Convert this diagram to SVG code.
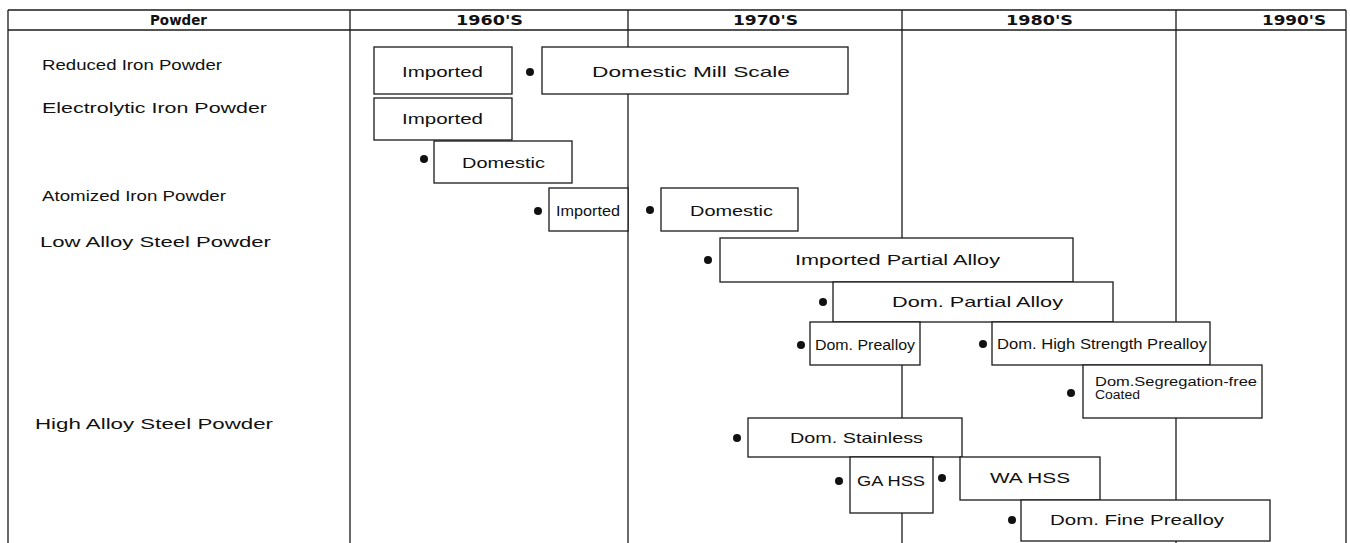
<svg xmlns="http://www.w3.org/2000/svg" width="1350" height="543" viewBox="0 0 1350 543">
<style>
.ln{stroke:#1a1a1a;stroke-width:1.3;fill:none}
.bx{fill:#fff;stroke:#1a1a1a;stroke-width:1.3}
.hd{font-family:"DejaVu Sans","Liberation Sans",sans-serif;font-weight:bold;font-size:14px;fill:#111}
.lb{font-family:"Liberation Sans",Arial,sans-serif;font-size:15px;fill:#111}
.tx{font-family:"Liberation Sans",Arial,sans-serif;font-size:15px;fill:#111;text-anchor:start}
.nr{font-family:"Liberation Sans",Arial,sans-serif;font-size:14px;fill:#111}
.sm{font-family:"Liberation Sans",Arial,sans-serif;font-size:12.5px;fill:#111}
.dt{fill:#111}
</style>
<rect width="1350" height="543" fill="#fff"/>
<g id="grid">
<line class="ln" x1="8" y1="10" x2="1346" y2="10"/>
<line class="ln" x1="8" y1="30" x2="1346" y2="30"/>
<line class="ln" x1="8" y1="10" x2="8" y2="543"/>
<line class="ln" x1="1346" y1="10" x2="1346" y2="543"/>
<line class="ln" x1="350" y1="10" x2="350" y2="543"/>
<line class="ln" x1="628" y1="10" x2="628" y2="543"/>
<line class="ln" x1="902" y1="10" x2="902" y2="543"/>
<line class="ln" x1="1176" y1="10" x2="1176" y2="543"/>
</g>
<g id="header">
<text class="hd" x="150" y="25" textLength="57" lengthAdjust="spacingAndGlyphs">Powder</text>
<text class="hd" x="456" y="25" textLength="67" lengthAdjust="spacingAndGlyphs">1960'S</text>
<text class="hd" x="733" y="25" textLength="65" lengthAdjust="spacingAndGlyphs">1970'S</text>
<text class="hd" x="1006" y="25" textLength="67" lengthAdjust="spacingAndGlyphs">1980'S</text>
<text class="hd" x="1262" y="25" textLength="64" lengthAdjust="spacingAndGlyphs">1990'S</text>
</g>
<g id="labels">
<text class="lb" x="42" y="70" textLength="180" lengthAdjust="spacingAndGlyphs">Reduced Iron Powder</text>
<text class="lb" x="42" y="113" textLength="225" lengthAdjust="spacingAndGlyphs">Electrolytic Iron Powder</text>
<text class="lb" x="42" y="201" textLength="184" lengthAdjust="spacingAndGlyphs">Atomized Iron Powder</text>
<text class="lb" x="40" y="247" textLength="231" lengthAdjust="spacingAndGlyphs">Low Alloy Steel Powder</text>
<text class="lb" x="35" y="429" textLength="238" lengthAdjust="spacingAndGlyphs">High Alloy Steel Powder</text>
</g>
<g id="n1"><rect class="bx" x="374" y="47" width="138" height="47"/><text class="tx" x="402" y="77" textLength="81" lengthAdjust="spacingAndGlyphs">Imported</text></g>
<g id="n2"><circle class="dt" cx="530" cy="72" r="4"/><rect class="bx" x="542" y="47" width="306" height="47"/><text class="tx" x="592" y="77" textLength="198" lengthAdjust="spacingAndGlyphs">Domestic Mill Scale</text></g>
<g id="n3"><rect class="bx" x="374" y="98" width="138" height="42"/><text class="tx" x="402" y="124" textLength="81" lengthAdjust="spacingAndGlyphs">Imported</text></g>
<g id="n4"><circle class="dt" cx="424" cy="159" r="4"/><rect class="bx" x="434" y="141" width="138" height="42"/><text class="tx" x="462" y="168" textLength="83" lengthAdjust="spacingAndGlyphs">Domestic</text></g>
<g id="n5"><circle class="dt" cx="538" cy="211" r="4"/><rect class="bx" x="549" y="188" width="79" height="43"/><text class="nr" x="556" y="216" textLength="64" lengthAdjust="spacingAndGlyphs">Imported</text></g>
<g id="n6"><circle class="dt" cx="650" cy="210" r="4"/><rect class="bx" x="661" y="188" width="137" height="43"/><text class="tx" x="690" y="216" textLength="83" lengthAdjust="spacingAndGlyphs">Domestic</text></g>
<g id="n7"><circle class="dt" cx="708" cy="260" r="4"/><rect class="bx" x="720" y="238" width="353" height="44"/><text class="tx" x="795" y="265" textLength="205" lengthAdjust="spacingAndGlyphs">Imported Partial Alloy</text></g>
<g id="n8"><circle class="dt" cx="823" cy="302" r="4"/><rect class="bx" x="833" y="282" width="280" height="40"/><text class="tx" x="892" y="307" textLength="171" lengthAdjust="spacingAndGlyphs">Dom. Partial Alloy</text></g>
<g id="n9"><circle class="dt" cx="801" cy="345" r="4"/><rect class="bx" x="810" y="322" width="110" height="43"/><text class="nr" x="815" y="350" textLength="100" lengthAdjust="spacingAndGlyphs">Dom. Prealloy</text></g>
<g id="n10"><circle class="dt" cx="983" cy="344" r="4"/><rect class="bx" x="992" y="322" width="218" height="43"/><text class="nr" x="997" y="349" textLength="210" lengthAdjust="spacingAndGlyphs">Dom. High Strength Prealloy</text></g>
<g id="n11"><circle class="dt" cx="1071" cy="393" r="4"/><rect class="bx" x="1083" y="365" width="179" height="53"/><text class="sm" x="1095" y="386" textLength="162" lengthAdjust="spacingAndGlyphs">Dom.Segregation-free</text><text class="sm" x="1095" y="399" textLength="45" lengthAdjust="spacingAndGlyphs">Coated</text></g>
<g id="n12"><circle class="dt" cx="737" cy="438" r="4"/><rect class="bx" x="748" y="418" width="214" height="39"/><text class="tx" x="790" y="443" textLength="133" lengthAdjust="spacingAndGlyphs">Dom. Stainless</text></g>
<g id="n13"><circle class="dt" cx="839" cy="481" r="4"/><rect class="bx" x="850" y="457" width="83" height="56"/><text class="nr" x="857" y="486" textLength="68" lengthAdjust="spacingAndGlyphs">GA HSS</text></g>
<g id="n14"><circle class="dt" cx="942" cy="478" r="4"/><rect class="bx" x="960" y="457" width="140" height="43"/><text class="nr" x="990" y="483" textLength="80" lengthAdjust="spacingAndGlyphs">WA HSS</text></g>
<g id="n15"><circle class="dt" cx="1012" cy="520" r="4"/><rect class="bx" x="1021" y="500" width="249" height="41"/><text class="tx" x="1050" y="525" textLength="174" lengthAdjust="spacingAndGlyphs">Dom. Fine Prealloy</text></g>
</svg>
